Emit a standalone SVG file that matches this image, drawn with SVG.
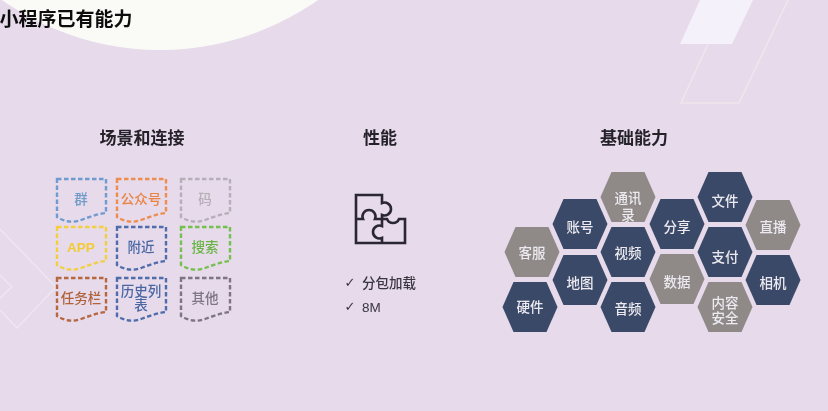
<svg xmlns="http://www.w3.org/2000/svg" width="828" height="411" viewBox="0 0 828 411">
<style>
text{font-family:"Liberation Sans","Noto Sans CJK SC",sans-serif;text-anchor:middle}
.h{font-size:17px;font-weight:700;fill:#26242b}
.doc{fill:none;stroke-width:2.4;stroke-dasharray:4.5 2.5}
.l{font-size:13.5px;font-weight:500}
.hx{font-size:13.5px;font-weight:500;fill:#eceaf0}
.d{fill:#3b4a68}.g{fill:#8f8a88}
.sb{stroke:#6f9bd0}.so{stroke:#ed8d50}.sy{stroke:#f3cf3f}.sn{stroke:#4f6daa}
.sgr{stroke:#b7afb7}.sv{stroke:#75c050}.sr{stroke:#b5673f}.sk{stroke:#7d7580}
.fb{fill:#6f9bc8}.fo{fill:#ea8445}.fy{fill:#f3cc35}.fn{fill:#4a66a3}
.fgr{fill:#b5aeb5}.fv{fill:#68b544}.fr{fill:#b0623a}.fk{fill:#7d7580}
.li{font-size:13.5px;fill:#3a3640;font-weight:500;text-anchor:start}
.ck{font-size:13px;font-weight:700;font-family:"DejaVu Sans",sans-serif;fill:#3a3640}
</style>
<defs>
<path id="dp" d="M0 0H49V34C40 35 32 38 24 41C16 44 8 43 0 38Z"/>
<polygon id="hp" points="-27.5,0 -16.5,-25 16.5,-25 27.5,0 16.5,25 -16.5,25"/>
<filter id="sf" x="-5%" y="-5%" width="110%" height="110%"><feGaussianBlur stdDeviation="0.45"/></filter>
</defs>
<rect width="828" height="411" fill="#e6daeb"/>
<circle cx="160" cy="-224.6" r="274.6" fill="#fafaf6"/>
<polygon points="680,44 732,44 753,0 700,0" fill="#f5f1fb"/>
<path d="M708 44L681 103H739L788 0" fill="none" stroke="#f1e6ec" stroke-width="1.5"/>
<path d="M0 229L56 287L17 328L0 310M0 275L12 287L0 298" fill="none" stroke="#f0e8f0" stroke-width="1.3"/>
<g filter="url(#sf)">
<text x="66" y="26" class="h" style="font-size:19px;fill:#111">小程序已有能力</text>
<text x="142" y="144" class="h">场景和连接</text>
<text x="380" y="144" class="h">性能</text>
<text x="634" y="144" class="h">基础能力</text>

<g id="connectors"/>

<g id="doc-qun"><use href="#dp" x="57" y="179" class="doc sb"/><text x="81" y="204" class="l fb">群</text></g>
<g id="doc-gongzhonghao"><use href="#dp" x="117" y="179" class="doc so"/><text x="141" y="204" class="l fo">公众号</text></g>
<g id="doc-ma"><use href="#dp" x="181" y="179" class="doc sgr"/><text x="205" y="204" class="l fgr">码</text></g>
<g id="doc-app"><use href="#dp" x="57" y="227" class="doc sy"/><text x="81" y="252" class="l fy" style="font-weight:700">APP</text></g>
<g id="doc-fujin"><use href="#dp" x="117" y="227" class="doc sn"/><text x="141" y="252" class="l fn">附近</text></g>
<g id="doc-sousuo"><use href="#dp" x="181" y="227" class="doc sv"/><text x="205" y="252" class="l fv">搜索</text></g>
<g id="doc-renwulan"><use href="#dp" x="57" y="278" class="doc sr"/><text x="81" y="303" class="l fr">任务栏</text></g>
<g id="doc-lishi"><use href="#dp" x="117" y="278" class="doc sn"/><text x="141" y="296" class="l fn">历史列</text><text x="141" y="310" class="l fn">表</text></g>
<g id="doc-qita"><use href="#dp" x="181" y="278" class="doc sk"/><text x="205" y="303" class="l fk">其他</text></g>

<g id="puzzle" fill="none" stroke="#2a2730" stroke-width="2.6">
<path d="M356 195H382V203A6.5 6.5 0 1 1 382 215V219H387A6.5 6.5 0 0 0 399 219H405V243H356Z"/>
<path d="M356 219H363A6.5 6.5 0 1 1 375 219H382V226A6.5 6.5 0 1 0 382 238V243"/>
</g>
<g id="checks">
<text x="350" y="287" class="ck">✓</text>
<text x="362" y="288" class="li">分包加载</text>
<text x="350" y="311" class="ck">✓</text>
<text x="362" y="312" class="li">8M</text>
</g>

<g id="hex-tongxunlu"><use href="#hp" x="628" y="197" class="g"/><text x="628" y="203" class="hx">通讯</text><text x="628" y="220" class="hx">录</text></g>
<g id="hex-zhanghao"><use href="#hp" x="580" y="224" class="d"/><text x="580" y="232" class="hx">账号</text></g>
<g id="hex-kefu"><use href="#hp" x="532" y="252" class="g"/><text x="532" y="258" class="hx">客服</text></g>
<g id="hex-yingjian"><use href="#hp" x="530" y="307" class="d"/><text x="530" y="312" class="hx">硬件</text></g>
<g id="hex-ditu"><use href="#hp" x="580" y="280" class="d"/><text x="580" y="288" class="hx">地图</text></g>
<g id="hex-shipin"><use href="#hp" x="628" y="252" class="d"/><text x="628" y="258" class="hx">视频</text></g>
<g id="hex-yinpin"><use href="#hp" x="628" y="307" class="d"/><text x="628" y="314" class="hx">音频</text></g>
<g id="hex-fenxiang"><use href="#hp" x="677" y="224" class="d"/><text x="677" y="232" class="hx">分享</text></g>
<g id="hex-shuju"><use href="#hp" x="677" y="279" class="g"/><text x="677" y="287" class="hx">数据</text></g>
<g id="hex-wenjian"><use href="#hp" x="725" y="197" class="d"/><text x="725" y="206" class="hx">文件</text></g>
<g id="hex-zhifu"><use href="#hp" x="725" y="252" class="d"/><text x="725" y="262" class="hx">支付</text></g>
<g id="hex-neirong"><use href="#hp" x="725" y="307" class="g"/><text x="725" y="308" class="hx">内容</text><text x="725" y="323" class="hx">安全</text></g>
<g id="hex-zhibo"><use href="#hp" x="773" y="225" class="g"/><text x="773" y="232" class="hx">直播</text></g>
<g id="hex-xiangji"><use href="#hp" x="773" y="280" class="d"/><text x="773" y="288" class="hx">相机</text></g>
</g>
</svg>
